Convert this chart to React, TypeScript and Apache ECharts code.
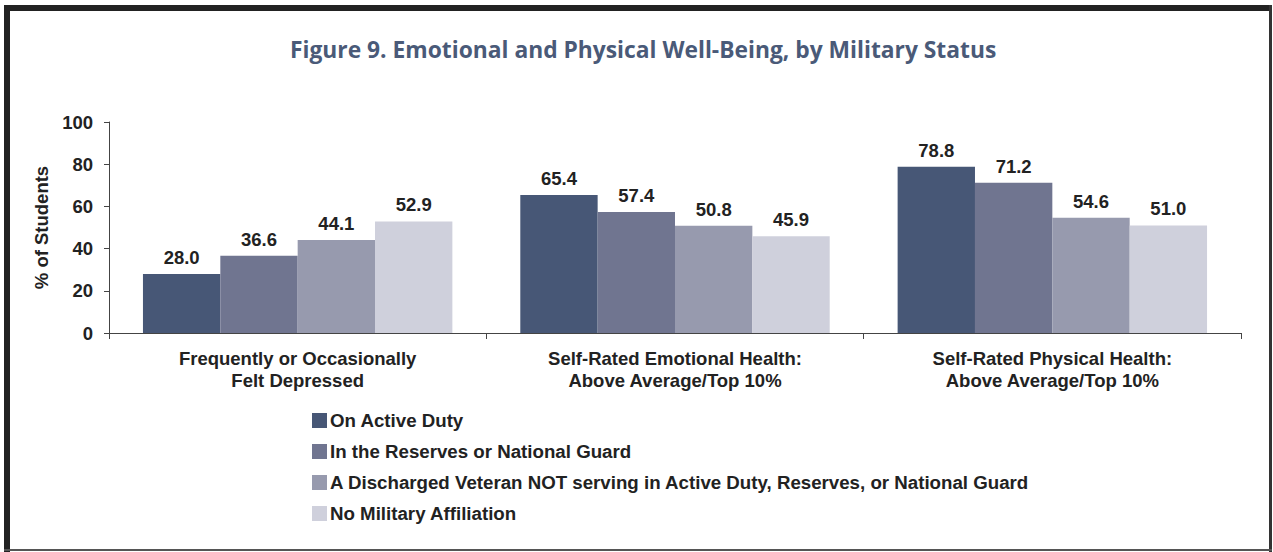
import React, { useEffect, useRef } from "react";
import * as echarts from "echarts";

const categories = [
  "Frequently or Occasionally\nFelt Depressed",
  "Self-Rated Emotional Health:\nAbove Average/Top 10%",
  "Self-Rated Physical Health:\nAbove Average/Top 10%",
];
const seriesNames = [
  "On Active Duty",
  "In the Reserves or National Guard",
  "A Discharged Veteran NOT serving in Active Duty, Reserves, or National Guard",
  "No Military Affiliation",
];
const activeDuty = [28.0, 65.4, 78.8];
const reserves = [36.6, 57.4, 71.2];
const veteran = [44.1, 50.8, 54.6];
const noAffiliation = [52.9, 45.9, 51.0];
const yTicks = [0, 20, 40, 60, 80, 100];

const colors = ["#475776", "#707590", "#979aae", "#cfd0dc"];
const FONT = "'Liberation Sans', Arial, sans-serif";
const FS = 18.5;

export default function App() {
  const ref = useRef<HTMLDivElement>(null);
  useEffect(() => {
    document.body.style.margin = "0";
    const chart = echarts.init(ref.current!, undefined, { renderer: "svg" });
    const values = [activeDuty, reserves, veteran, noAffiliation];
    chart.setOption({
      animation: false,
      backgroundColor: "#ffffff",
      title: {
        text: "Figure 9. Emotional and Physical Well-Being, by Military Status",
        left: 285,
        top: 33,
        textStyle: {
          fontFamily: "'Open Sans', sans-serif",
          fontWeight: "bold",
          fontSize: 22.8,
          color: "#4a5a78",
        },
      },
      legend: {
        orient: "vertical",
        left: 312,
        top: 411,
        padding: 0,
        itemWidth: 15,
        itemHeight: 15,
        itemGap: 12,
        icon: "rect",
        textStyle: { fontFamily: FONT, fontWeight: "bold", fontSize: 18.7, color: "#222", padding: [0, 0, 0, -2] },
        data: seriesNames,
      },
      grid: { left: 109, right: 32, top: 122, bottom: 219, containLabel: false },
      xAxis: {
        type: "category",
        data: categories,
        axisLine: { lineStyle: { color: "#444", width: 1 } },
        axisTick: { show: true, length: 6, lineStyle: { color: "#444" } },
        axisLabel: {
          fontFamily: FONT,
          fontWeight: "bold",
          fontSize: FS,
          color: "#222",
          lineHeight: 22,
          margin: 14,
        },
      },
      yAxis: {
        type: "value",
        min: 0,
        max: 100,
        interval: 20,
        name: "% of Students",
        nameLocation: "middle",
        nameGap: 51,
        nameTextStyle: { fontFamily: FONT, fontWeight: "bold", fontSize: FS, color: "#222" },
        splitLine: { show: false },
        axisLine: { show: true, lineStyle: { color: "#444", width: 1 } },
        axisTick: { show: true, length: 5, lineStyle: { color: "#444" } },
        axisLabel: {
          fontFamily: FONT,
          fontWeight: "bold",
          fontSize: FS,
          color: "#222",
          margin: 16,
          formatter: (v: number) => (yTicks.includes(v) ? String(v) : ""),
        },
      },
      series: values.map((d, i) => ({
        name: seriesNames[i],
        type: "bar",
        data: d,
        barGap: "0%",
        barCategoryGap: "18%",
        itemStyle: { color: colors[i] },
        label: {
          show: true,
          position: "top",
          distance: 7,
          formatter: (p: any) => Number(p.value).toFixed(1),
          fontFamily: FONT,
          fontWeight: "bold",
          fontSize: FS,
          color: "#222",
        },
      })),
      graphic: [
        { type: "rect", shape: { x: 4, y: 5, width: 1268, height: 6 }, style: { fill: "#222" } },
        { type: "rect", shape: { x: 4, y: 5, width: 6, height: 547 }, style: { fill: "#222" } },
        { type: "rect", shape: { x: 1269, y: 5, width: 3, height: 547 }, style: { fill: "#333" } },
        { type: "rect", shape: { x: 4, y: 549, width: 1268, height: 2 }, style: { fill: "#555" } },
      ],
    });
    return () => chart.dispose();
  }, []);
  return <div ref={ref} style={{ position: "fixed", left: 0, top: 0, width: 1273, height: 552 }} />;
}
